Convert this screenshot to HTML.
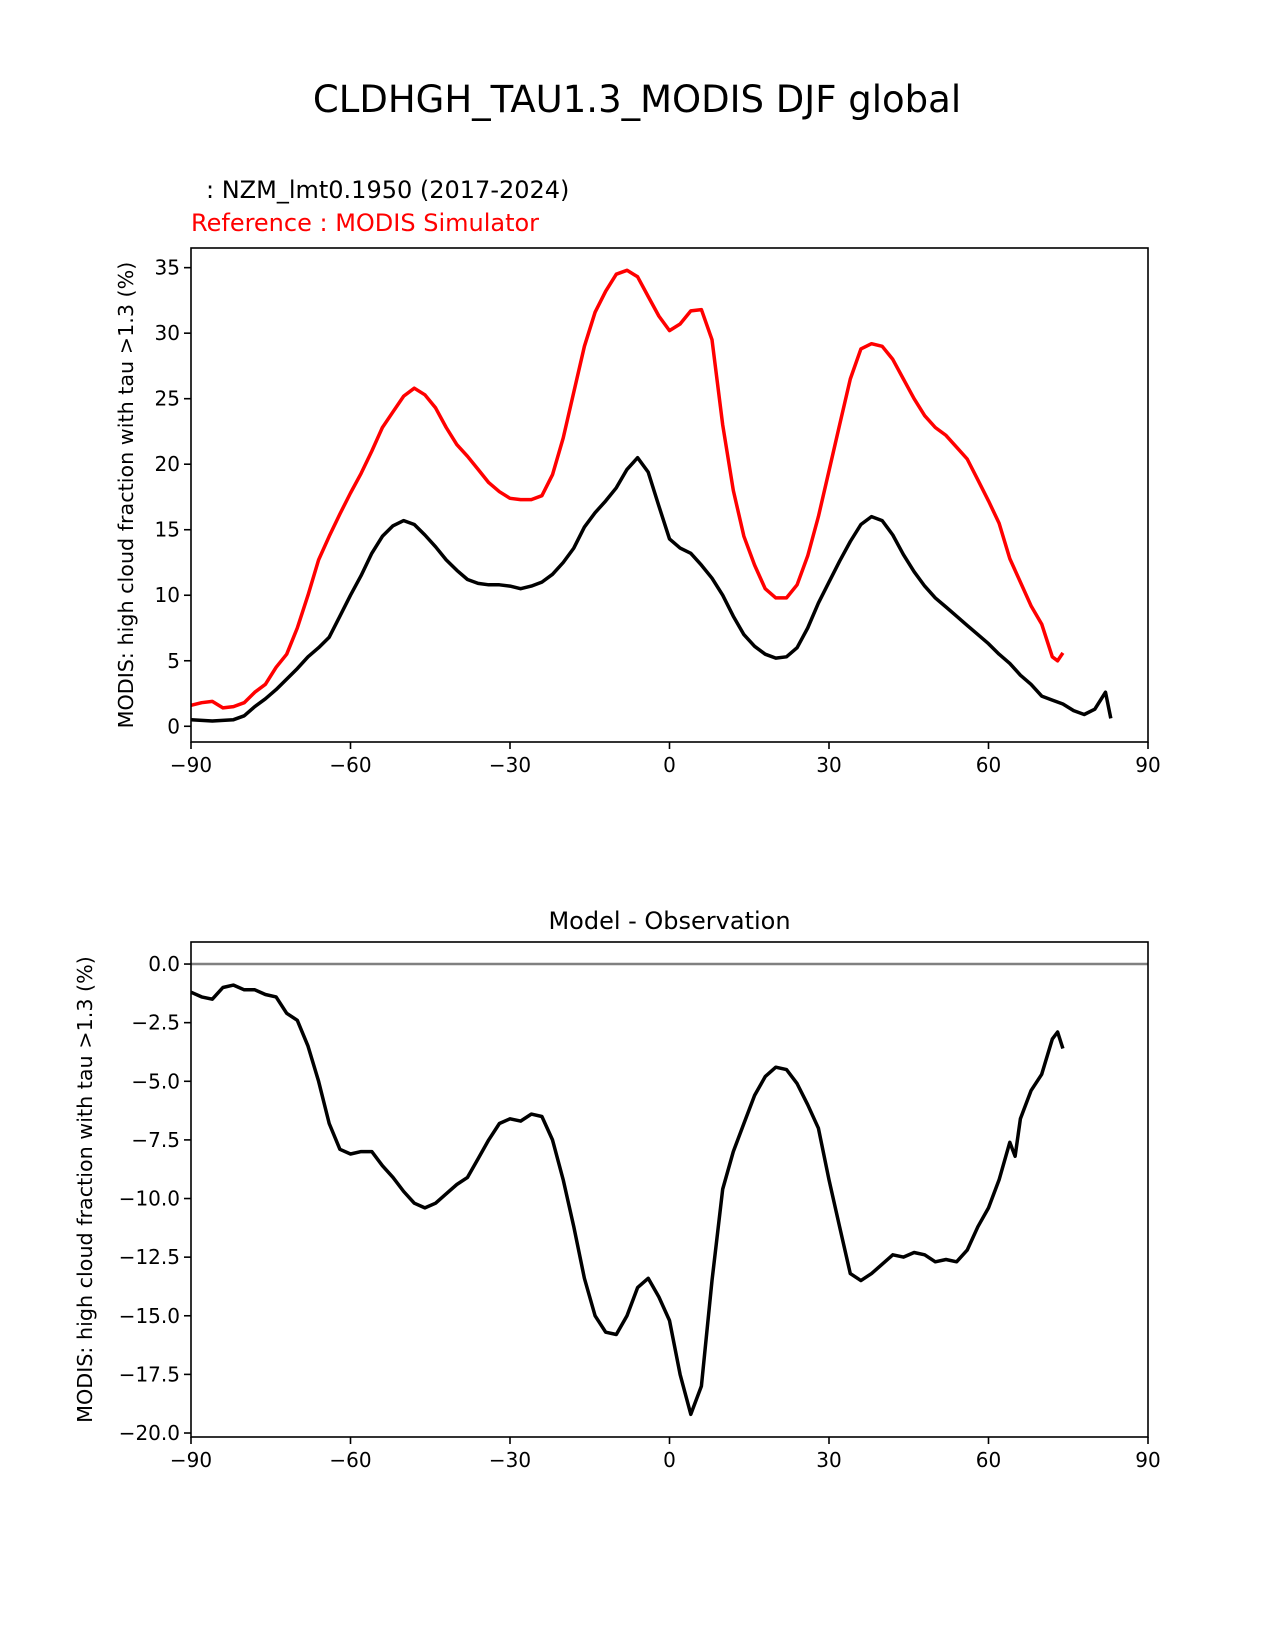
<!DOCTYPE html>
<html><head><meta charset="utf-8"><style>
body{margin:0;background:#fff}
svg{display:block;font-family:"DejaVu Sans","Liberation Sans",sans-serif}
</style></head><body>
<svg id="fig" width="1275" height="1650" viewBox="0 0 1275 1650" xmlns="http://www.w3.org/2000/svg">
<rect width="1275" height="1650" fill="#fff"/>
<text x="637" y="112" font-size="37" text-anchor="middle">CLDHGH_TAU1.3_MODIS DJF global</text>
<text x="206" y="198" font-size="24">: NZM_lmt0.1950 (2017-2024)</text>
<text x="191" y="231" font-size="24" fill="red">Reference : MODIS Simulator</text>
<text x="669.5" y="929" font-size="24" text-anchor="middle">Model - Observation</text>
<g id="top"></g><g id="bot"></g>
</svg>
<script>
const lats=[-90,-88,-86,-84,-82,-80,-78,-76,-74,-72,-70,-68,-66,-64,-62,-60,-58,-56,-54,-52,-50,-48,-46,-44,-42,-40,-38,-36,-34,-32,-30,-28,-26,-24,-22,-20,-18,-16,-14,-12,-10,-8,-6,-4,-2,0,2,4,6,8,10,12,14,16,18,20,22,24,26,28,30,32,34,36,38,40,42,44,46,48,50,52,54,56,58,60,62,64,66,68,70,72,73,74];
const refVals=[1.6,1.8,1.9,1.4,1.5,1.8,2.6,3.2,4.5,5.5,7.5,10,12.7,14.5,16.2,17.8,19.3,21,22.8,24,25.2,25.8,25.3,24.3,22.8,21.5,20.6,19.6,18.6,17.9,17.4,17.3,17.3,17.6,19.2,22,25.5,29,31.6,33.2,34.5,34.8,34.3,32.8,31.3,30.2,30.7,31.7,31.8,29.5,23,18,14.5,12.3,10.5,9.8,9.8,10.8,13,16,19.5,23,26.5,28.8,29.2,29.0,28,26.5,25,23.7,22.8,22.2,21.3,20.4,18.8,17.2,15.5,12.8,11,9.2,7.8,5.3,5.0,5.6];
const testLats=[-90,-86,-82,-80,-78,-76,-74,-72,-70,-68,-66,-64,-62,-60,-58,-56,-54,-52,-50,-48,-46,-44,-42,-40,-38,-36,-34,-32,-30,-28,-26,-24,-22,-20,-18,-16,-14,-12,-10,-8,-6,-4,-2,0,2,4,6,8,10,12,14,16,18,20,22,24,26,28,30,32,34,36,38,40,42,44,46,48,50,52,54,56,58,60,62,64,66,68,70,72,74,76,78,80,82,83];
const testVals=[0.5,0.4,0.5,0.8,1.5,2.1,2.8,3.6,4.4,5.3,6,6.8,8.4,10,11.5,13.2,14.5,15.3,15.7,15.4,14.6,13.7,12.7,11.9,11.2,10.9,10.8,10.8,10.7,10.5,10.7,11,11.6,12.5,13.6,15.2,16.3,17.2,18.2,19.6,20.5,19.4,16.8,14.3,13.6,13.2,12.3,11.3,10,8.4,7,6.1,5.5,5.2,5.3,6,7.5,9.4,11,12.6,14.1,15.4,16.0,15.7,14.6,13.1,11.8,10.7,9.8,9.1,8.4,7.7,7.0,6.3,5.5,4.8,3.9,3.2,2.3,2.0,1.7,1.2,0.9,1.3,2.6,0.6];
const diffLats=[-90,-88,-86,-84,-82,-80,-78,-76,-74,-72,-70,-68,-66,-64,-62,-60,-58,-56,-54,-52,-50,-48,-46,-44,-42,-40,-38,-36,-34,-32,-30,-28,-26,-24,-22,-20,-18,-16,-14,-12,-10,-8,-6,-4,-2,0,2,4,6,8,10,12,14,16,18,20,22,24,26,28,30,32,34,36,38,40,42,44,46,48,50,52,54,56,58,60,62,64,65,66,68,70,72,73,74];
const diffVals=[-1.2,-1.4,-1.5,-1.0,-0.9,-1.1,-1.1,-1.3,-1.4,-2.1,-2.4,-3.5,-5,-6.8,-7.9,-8.1,-8.0,-8.0,-8.6,-9.1,-9.7,-10.2,-10.4,-10.2,-9.8,-9.4,-9.1,-8.3,-7.5,-6.8,-6.6,-6.7,-6.4,-6.5,-7.5,-9.2,-11.2,-13.4,-15,-15.7,-15.8,-15.0,-13.8,-13.4,-14.2,-15.2,-17.5,-19.2,-18,-13.5,-9.6,-8.0,-6.8,-5.6,-4.8,-4.4,-4.5,-5.1,-6.0,-7.0,-9.2,-11.2,-13.2,-13.5,-13.2,-12.8,-12.4,-12.5,-12.3,-12.4,-12.7,-12.6,-12.7,-12.2,-11.2,-10.4,-9.2,-7.6,-8.2,-6.6,-5.4,-4.7,-3.2,-2.9,-3.6];
const xTicks=[-90,-60,-30,0,30,60,90];
const xTickLabels=["\u221290","\u221260","\u221230","0","30","60","90"];
const topYTicks=[0,5,10,15,20,25,30,35];
const botYTicks=[0,-2.5,-5,-7.5,-10,-12.5,-15,-17.5,-20];
const botYTickLabels=["0.0","\u22122.5","\u22125.0","\u22127.5","\u221210.0","\u221212.5","\u221215.0","\u221217.5","\u221220.0"];
const NS="http://www.w3.org/2000/svg";
function mk(parent,tag,attrs){const e=document.createElementNS(NS,tag);for(const k in attrs)e.setAttribute(k,attrs[k]);parent.appendChild(e);return e;}
function panel(g,box,ymin,ymax,yt,ytl,ylab,series,zeroLine){
  const X=v=>box.l+(v+90)/180*(box.r-box.l);
  const Y=v=>box.b-(v-ymin)/(ymax-ymin)*(box.b-box.t);
  if(zeroLine){const z=mk(g,'line',{x1:box.l,x2:box.r,y1:Y(0),y2:Y(0),stroke:'#808080','stroke-width':2.5});
    
    }
  series.forEach(s=>{
    const d=s.x.map((v,i)=>(i?'L':'M')+X(v).toFixed(1)+' '+Y(s.y[i]).toFixed(1)).join(' ');
    const p=mk(g,'path',{d:d,fill:'none',stroke:s.c,'stroke-width':3.5,'stroke-linejoin':'round'});
    
    
  });
  const f=mk(g,'rect',{x:box.l,y:box.t,width:box.r-box.l,height:box.b-box.t,fill:'none',stroke:'#000','stroke-width':1.6});
  
  
  xTicks.forEach((v,i)=>{
    mk(g,'line',{x1:X(v),x2:X(v),y1:box.b,y2:box.b+7,stroke:'#000','stroke-width':1.6});
    const t=mk(g,'text',{x:X(v),y:box.b+30,'font-size':20,'text-anchor':'middle'});t.textContent=xTickLabels[i];
    
    
  });
  yt.forEach((v,i)=>{
    mk(g,'line',{x1:box.l-7,x2:box.l,y1:Y(v),y2:Y(v),stroke:'#000','stroke-width':1.6});
    const t=mk(g,'text',{x:box.l-11,y:Y(v)+7,'font-size':20,'text-anchor':'end'});t.textContent=ytl[i];
    
    
  });
  const cy=(box.t+box.b)/2;
  const yl=mk(g,'text',{x:0,y:0,'font-size':20.7,'text-anchor':'middle',transform:`translate(${ylab},${cy}) rotate(-90)`});
  yl.textContent='MODIS: high cloud fraction with tau >1.3 (%)';
  
  
}
panel(document.getElementById('top'),{l:191,r:1148,t:248,b:742},-1.2,36.5,topYTicks,topYTicks.map(String),133,
 [{x:lats,y:refVals,c:'red',name:'reference-line'},{x:testLats,y:testVals,c:'#000',name:'test-line'}],false);
panel(document.getElementById('bot'),{l:191,r:1148,t:942,b:1437},-20.17,0.94,botYTicks,botYTickLabels,92,
 [{x:diffLats,y:diffVals,c:'#000',name:'difference-line'}],true);
</script>
</body></html>
